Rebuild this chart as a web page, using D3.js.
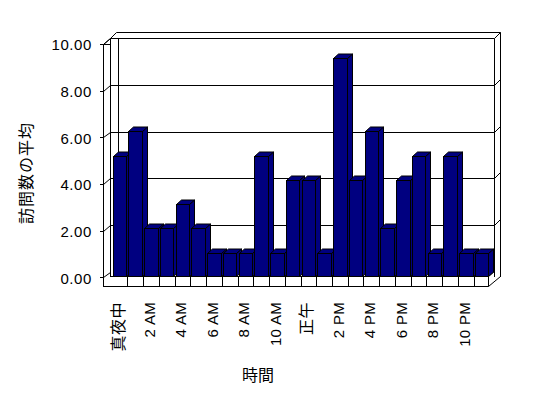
<!DOCTYPE html>
<html>
<head>
<meta charset="utf-8">
<script src="https://cdn.jsdelivr.net/npm/d3@7.9.0/dist/d3.min.js"></script>
<style>
  body { margin: 0; background: #fff; }
  svg { display: block; }
  text { font-family: "Liberation Sans", Arial, "Noto Sans CJK JP", sans-serif; fill: #000; }
</style>
</head>
<body>
<div id="chart"></div>
<script>
const hours = ['真夜中', '1 AM', '2 AM', '3 AM', '4 AM', '5 AM', '6 AM', '7 AM', '8 AM', '9 AM', '10 AM', '11 AM',
  '正午', '1 PM', '2 PM', '3 PM', '4 PM', '5 PM', '6 PM', '7 PM', '8 PM', '9 PM', '10 PM', '11 PM'];
const visits = [5, 6, 2, 2, 3, 2, 1, 1, 1, 5, 1, 4, 4, 1, 9, 4, 6, 2, 4, 5, 1, 5, 1, 1];
const yTicks = [0, 2, 4, 6, 8, 10];
const yTitle = '訪問数の平均';
const xTitle = '時間';

const svg = d3.select('#chart').append('svg').attr('width', 548).attr('height', 398);

const x = d3.scaleBand().domain(hours).range([112.7, 488.3]).paddingInner(0.143).paddingOuter(0);
const yFront = d3.scaleLinear().domain([0, 10]).range([277.3, 44]);
const yBack = d3.scaleLinear().domain([0, 10]).range([271.7, 38.3]);
const yBar = d3.scaleLinear().domain([0, 10]).range([277, 34]);
const dx = 5, dy = -4.5;
const px = v => Math.round(v) + 0.5;

// walls and floor
const frame = svg.append('g').attr('fill', 'none').attr('stroke', '#000').attr('stroke-width', 1);
frame.append('path').attr('d',
  'M110.5,38.5H494.5V277 M116.5,32.5H500.5V277 M110.5,38.5L116.5,32.5 M494.5,38.5L500.5,32.5 M118.5,38.5V277' +
  ' M103.5,44.5V287 M110.5,38.5V277 M103.5,44.5H110.5 M103.5,44.5L110.5,38.5' +
  ' M103.5,286.5H488.5V276.5 M110.5,276.5H488.5 M488.5,286.5L500.5,276.5 M488.5,276.5L494.5,271.5');

frame.selectAll('.grid')
  .data(yTicks.filter(v => v > 0 && v < 10))
  .join('path')
  .attr('class', 'grid')
  .attr('d', v => `M110.5,${px(yBack(v))}H494.5L500.5,${px(yBack(v)) - 6}`);

frame.selectAll('.ytick')
  .data(yTicks)
  .join('path')
  .attr('class', 'ytick')
  .attr('d', v => `M100,${px(yFront(v))}H103.5L110.5,${px(yBack(v))}`);

const step = x.step();
frame.selectAll('.xtick')
  .data(hours.slice(1))
  .join('path')
  .attr('class', 'xtick')
  .attr('d', d => `M${px(x(d) - (step - x.bandwidth()) / 2)},276.5V286.5`);

// bars
const bars = svg.append('g').attr('fill', '#000080').attr('stroke', '#000').attr('stroke-linejoin', 'miter');
hours.forEach((h, i) => {
  const x0 = px(x(h)), x1 = px(x(h) + x.bandwidth());
  const yt = px(yBar(visits[i])), yb = 276.5;
  const g = bars.append('g');
  g.append('path').attr('d', `M${x1},${yt}L${x1 + dx},${yt + dy}V${yb + dy}L${x1},${yb}Z`);
  g.append('path').attr('d', `M${x0},${yt}L${x0 + dx},${yt + dy}H${x1 + dx}L${x1},${yt}Z`);
  g.append('rect').attr('x', x0).attr('y', yt).attr('width', x1 - x0).attr('height', yb - yt);
});

// y tick labels
svg.append('g').selectAll('text')
  .data(yTicks)
  .join('text')
  .attr('x', 92)
  .attr('y', v => yFront(v) + 1)
  .attr('dy', '0.35em')
  .attr('text-anchor', 'end')
  .style('font-size', '15px')
  .style('letter-spacing', '0.6px')
  .text(v => v.toFixed(2));

// category labels, every other hour
svg.append('g').selectAll('text')
  .data(hours.filter((d, i) => i % 2 === 0))
  .join('text')
  .attr('transform', d => `translate(${x(d) + x.bandwidth() / 2 - 1.5},302) rotate(-90)`)
  .attr('dy', '0.35em')
  .attr('text-anchor', 'end')
  .style('font-size', d => /[^\x00-\x7f]/.test(d) ? '16px' : '15px')
  .style('letter-spacing', d => /[^\x00-\x7f]/.test(d) ? '0.5px' : '0.3px')
  .text(d => d);

svg.append('text')
  .attr('transform', 'translate(26,173) rotate(-90)')
  .attr('dy', '0.35em')
  .attr('text-anchor', 'middle')
  .style('font-size', '16px')
  .style('letter-spacing', '1px')
  .text(yTitle);

svg.append('text')
  .attr('x', 258)
  .attr('y', 375)
  .attr('dy', '0.35em')
  .attr('text-anchor', 'middle')
  .style('font-size', '16px')
  .text(xTitle);
</script>
</body>
</html>
